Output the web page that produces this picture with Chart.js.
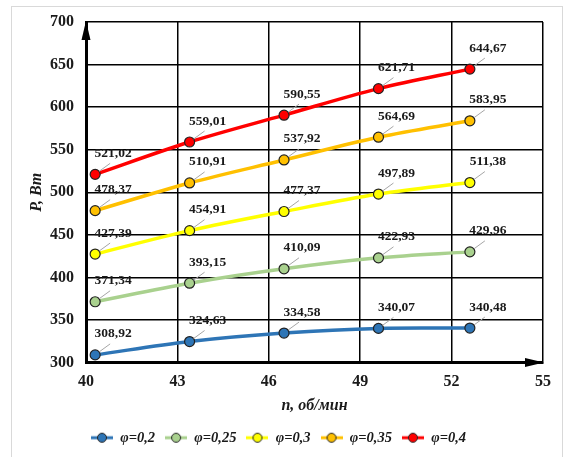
<!DOCTYPE html>
<html>
<head>
<meta charset="utf-8">
<script src="https://cdn.jsdelivr.net/npm/chart.js@4"></script>
<style>
  html, body { margin: 0; padding: 0; background: #fff; }
  #wrap { width: 564px; height: 457px; position: relative; }
</style>
</head>
<body>
<div id="wrap"><canvas id="c" width="564" height="457"></canvas></div>
<script>
// ---- data ----
const nValues = [40.3, 43.4, 46.5, 49.6, 52.6];
const seriesNames = ['φ=0,2', 'φ=0,25', 'φ=0,3', 'φ=0,35', 'φ=0,4'];
const p02  = [308.92, 324.63, 334.58, 340.07, 340.48];
const p025 = [371.34, 393.15, 410.09, 422.93, 429.96];
const p03  = [427.39, 454.91, 477.37, 497.89, 511.38];
const p035 = [478.37, 510.91, 537.92, 564.69, 583.95];
const p04  = [521.02, 559.01, 590.55, 621.71, 644.67];
const seriesValues = [p02, p025, p03, p035, p04];
const xTicks = [40, 43, 46, 49, 52, 55];
const yTicks = [300, 350, 400, 450, 500, 550, 600, 650, 700];

// ---- styles ----
const colors = ['#2e75b6', '#a9d18e', '#ffff00', '#ffc000', '#ff0000'];
const SERIF = '"Liberation Serif", "Times New Roman", serif';

function legendIcon(color) {
  const cv = document.createElement('canvas');
  cv.width = 22; cv.height = 12;
  const g = cv.getContext('2d');
  g.strokeStyle = color; g.lineWidth = 3;
  g.beginPath(); g.moveTo(0, 6); g.lineTo(22, 6); g.stroke();
  g.beginPath(); g.arc(11, 6, 4.5, 0, Math.PI * 2);
  g.fillStyle = color; g.fill();
  g.strokeStyle = '#222'; g.lineWidth = 1; g.stroke();
  return cv;
}

const datasets = seriesValues.map((vals, i) => ({
  label: seriesNames[i],
  data: vals.map((v, j) => ({ x: nValues[j], y: v })),
  borderColor: colors[i],
  backgroundColor: colors[i],
  borderWidth: 3.5,
  tension: 0.35,
  pointRadius: 5,
  pointHoverRadius: 5,
  pointBackgroundColor: colors[i],
  pointBorderColor: '#222',
  pointBorderWidth: 1.2,
  pointStyle: 'circle',
  legendIcon: legendIcon(colors[i]),
  order: 5 - i
}));

const framePlugin = {
  id: 'frame',
  beforeDraw(chart) {
    const ctx = chart.ctx;
    ctx.save();
    ctx.fillStyle = '#fff';
    ctx.fillRect(0, 0, chart.width, chart.height);
    ctx.strokeStyle = '#d9d9d9';
    ctx.lineWidth = 1;
    ctx.strokeRect(11.5, 6.5, 551, 470);
    ctx.restore();
  }
};

const labelPlugin = {
  id: 'dlabels',
  afterDatasetsDraw(chart) {
    const ctx = chart.ctx;
    ctx.save();
    chart.data.datasets.forEach((ds, i) => {
      const meta = chart.getDatasetMeta(i);
      meta.data.forEach((pt, j) => {
        const v = seriesValues[i][j];
        const x = pt.x, y = pt.y;
        ctx.strokeStyle = '#a6a6a6';
        ctx.lineWidth = 1;
        ctx.beginPath();
        ctx.moveTo(x + 4, y - 3);
        ctx.lineTo(x + 15, y - 11);
        ctx.stroke();
        ctx.fillStyle = '#1a1a1a';
        ctx.font = 'bold 13.5px ' + SERIF;
        ctx.textAlign = 'center';
        ctx.textBaseline = 'middle';
        ctx.fillText(v.toFixed(2).replace('.', ','), x + 18, y - 21);
      });
    });
    ctx.restore();
  },
  afterDraw(chart) {
    const ctx = chart.ctx;
    const a = chart.chartArea;
    ctx.save();
    ctx.fillStyle = '#000';
    // y arrow
    ctx.beginPath();
    ctx.moveTo(a.left, a.top - 1);
    ctx.lineTo(a.left - 4.5, a.top + 18);
    ctx.lineTo(a.left + 4.5, a.top + 18);
    ctx.closePath(); ctx.fill();
    // x arrow
    ctx.beginPath();
    ctx.moveTo(a.right + 1, a.bottom);
    ctx.lineTo(a.right - 18, a.bottom - 4.5);
    ctx.lineTo(a.right - 18, a.bottom + 4.5);
    ctx.closePath(); ctx.fill();
    ctx.restore();
  }
};

new Chart(document.getElementById('c'), {
  type: 'line',
  data: { datasets },
  options: {
    responsive: false,
    animation: false,
    layout: { padding: { left: 14, right: 21, top: 22, bottom: 2 } },
    plugins: {
      tooltip: { enabled: false },
      legend: {
        position: 'bottom',
        labels: {
          usePointStyle: true,
          pointStyleWidth: 22,
          padding: 10,
          color: '#1a1a1a',
          font: { family: SERIF, size: 14.5, style: 'italic', weight: 'bold' },
          generateLabels(chart) {
            return chart.data.datasets.map((ds, i) => ({
              text: ds.label,
              pointStyle: ds.legendIcon,
              fillStyle: ds.backgroundColor,
              strokeStyle: ds.borderColor,
              lineWidth: 0,
              hidden: false,
              datasetIndex: i,
              fontColor: '#1a1a1a'
            }));
          }
        }
      }
    },
    scales: {
      x: {
        type: 'linear',
        min: 40, max: 55,
        afterBuildTicks(scale) { scale.ticks = xTicks.map(v => ({ value: v })); },
        afterFit(scale) { scale.height = 58; },
        ticks: {
          padding: 10,
          color: '#1a1a1a',
          font: { family: SERIF, size: 16, weight: 'bold' },
          callback: v => String(v)
        },
        grid: { color: '#000', lineWidth: 1.5, drawTicks: false },
        border: { color: '#000', width: 3 },
        title: {
          display: true,
          text: 'n, об/мин',
          color: '#1a1a1a',
          padding: { top: 0, bottom: 5 },
          font: { family: SERIF, size: 16, style: 'italic', weight: 'bold' }
        }
      },
      y: {
        min: 300, max: 700,
        afterBuildTicks(scale) { scale.ticks = yTicks.map(v => ({ value: v })); },
        afterFit(scale) { scale.width = 72; },
        ticks: {
          padding: 12,
          color: '#1a1a1a',
          font: { family: SERIF, size: 16, weight: 'bold' },
          callback: v => String(v)
        },
        grid: { color: '#000', lineWidth: 1.5, drawTicks: false },
        border: { color: '#000', width: 3 },
        title: {
          display: true,
          text: 'P, Вт',
          color: '#1a1a1a',
          padding: { top: 13, bottom: 0 },
          font: { family: SERIF, size: 16, style: 'italic', weight: 'bold' }
        }
      }
    }
  },
  plugins: [framePlugin, labelPlugin]
});
</script>
</body>
</html>
